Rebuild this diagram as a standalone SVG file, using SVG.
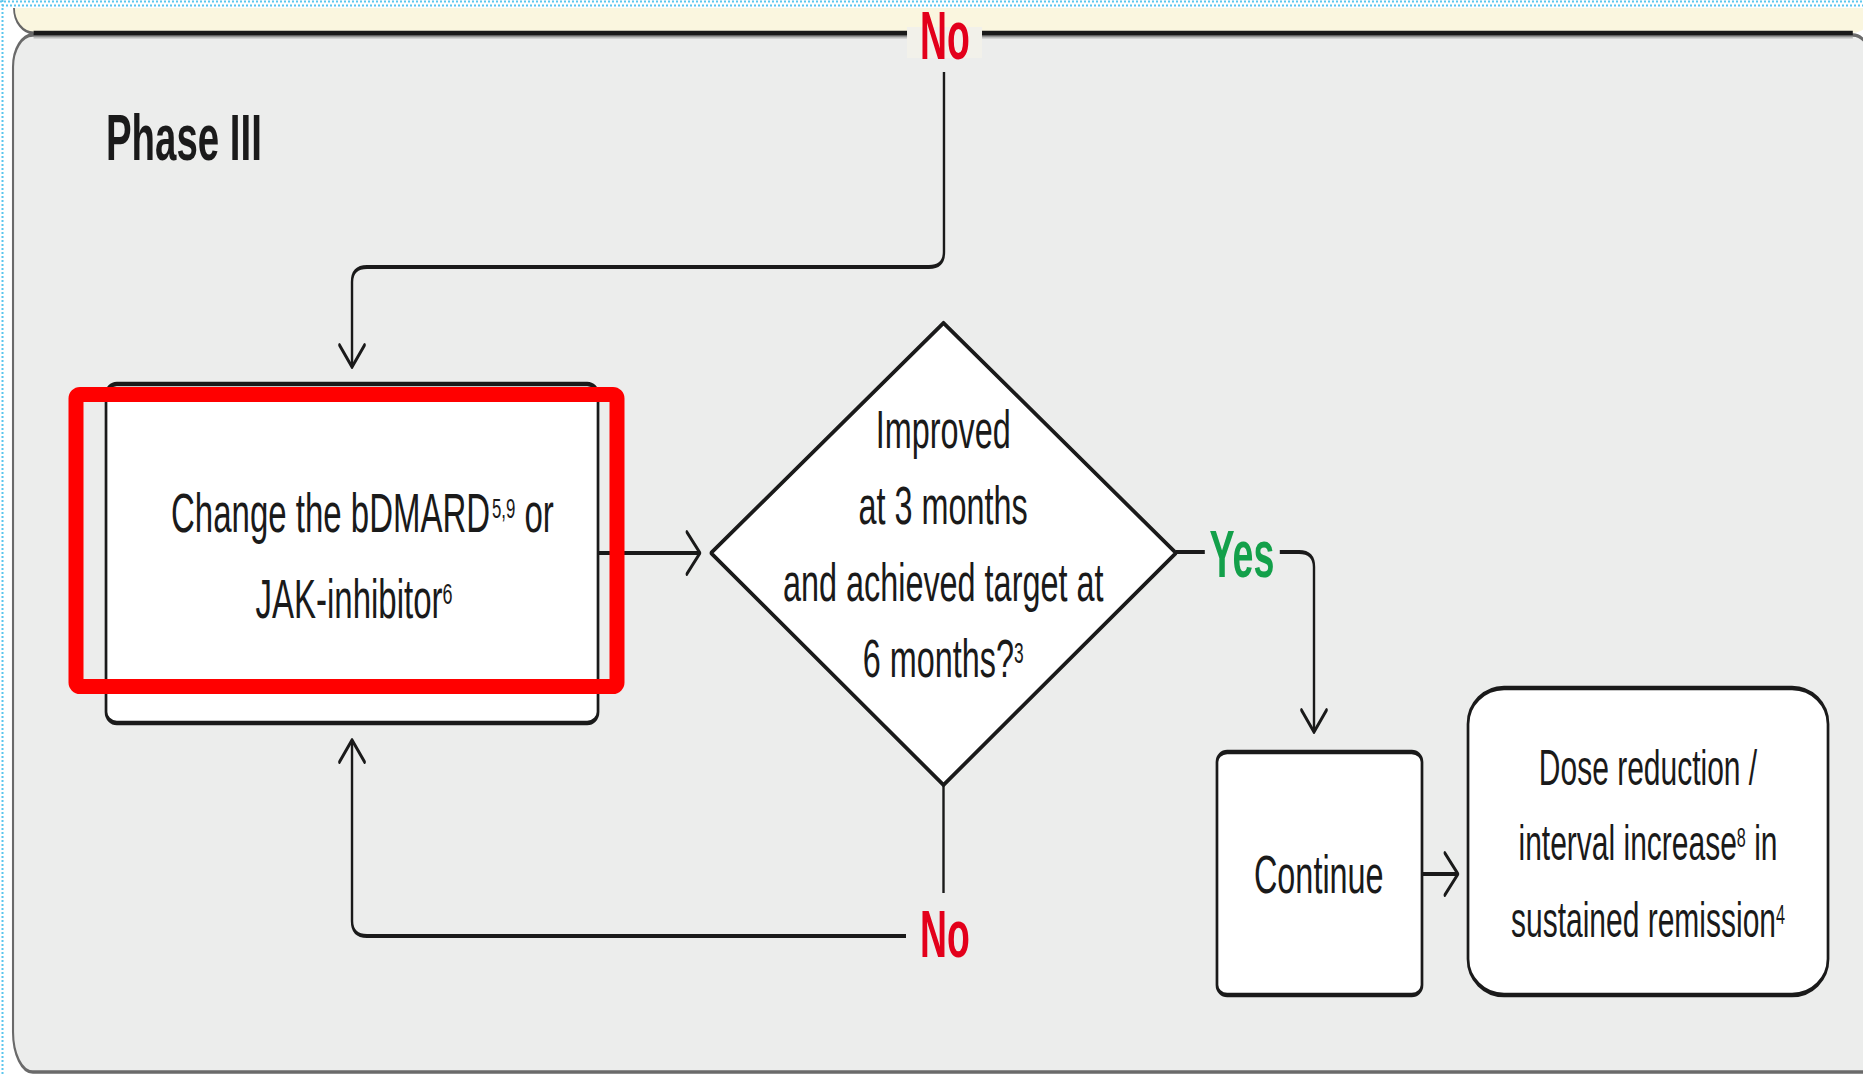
<svg xmlns="http://www.w3.org/2000/svg" width="1863" height="1074" viewBox="0 0 1863 1074">
<style>
.t{font-family:"Liberation Sans",Arial,Helvetica,sans-serif;fill:#1a1a1a}
.b{font-weight:bold}
.node{fill:#ffffff;stroke:#1a1a1a;stroke-width:4.5;stroke-linejoin:round}
.conn{fill:none;stroke:#1a1a1a;stroke-width:4}
.arr{marker-end:url(#arrow)}
.no{fill:#E3001B}
.yes{fill:#13A04A}
.dot{fill:none;stroke:#5BC6EE;stroke-width:2;stroke-dasharray:2 2}
</style>
<defs>
<marker id="arrow" markerUnits="userSpaceOnUse" orient="auto" overflow="visible" markerWidth="1" markerHeight="1" refX="0" refY="0">
<path d="M-22,-21 L0,0 L-22,21" fill="none" stroke="#1a1a1a" stroke-width="4" stroke-linecap="round" stroke-linejoin="round"/>
</marker>
</defs>
<rect x="0" y="0" width="1863" height="1074" fill="#ffffff"/>
<g id="selection-border">
<line class="dot" x1="0" y1="1.5" x2="1863" y2="1.5"/>
<line class="dot" x1="2" y1="5.5" x2="1863" y2="5.5"/>
<line class="dot" x1="2.5" y1="0" x2="2.5" y2="1074"/>
</g>
<g transform="scale(0.6 1)">
<g id="panels">
<path d="M23.3 8 A33 25 0 0 0 56.3 33 H3088 A33 25 0 0 0 3121 8 Z" fill="#FAF6DF"/>
<path d="M23.3 8 A33 25 0 0 0 56.3 33" fill="none" stroke="#666" stroke-width="3"/>
<path d="M21.7 1032 V67 A33 32 0 0 1 54.7 35 H3088 A33 32 0 0 1 3121 67 V1072 H54.7 A33 40 0 0 1 21.7 1032 Z" fill="#ECEDEC" stroke="#6a6a6a" stroke-width="3.5"/>
<rect x="1511.7" y="27" width="125" height="31" fill="#F2F1EA"/>
<line x1="56" y1="37" x2="1511.7" y2="37" stroke="#9a9a9a" stroke-width="3" opacity="0.6"/>
<line x1="1636.7" y1="37" x2="3088" y2="37" stroke="#9a9a9a" stroke-width="3" opacity="0.6"/>
<line x1="56" y1="33" x2="1511.7" y2="33" stroke="#1a1a1a" stroke-width="4.5"/>
<line x1="1636.7" y1="33" x2="3088" y2="33" stroke="#1a1a1a" stroke-width="4.5"/>
<text class="t b" x="176.7" y="160" font-size="64" fill="#111">Phase III</text>
</g>
<g id="connectors">
<path class="conn arr" d="M1573.3 72 V252 Q1573.3 267 1548.3 267 H611.7 Q586.7 267 586.7 282 V367"/>
<path class="conn arr" d="M996.7 553 H1166.7"/>
<path class="conn" d="M1960 552 H2008"/>
<path class="conn arr" d="M2133 552 H2165 Q2190 552 2190 567 V732"/>
<path class="conn arr" d="M2370 874 H2430"/>
<path class="conn" d="M1572.5 785 V893"/>
<path class="conn arr" d="M1510 936 H611.7 Q586.7 936 586.7 921 V740"/>
<text class="t b no" x="1575" y="59" font-size="68" text-anchor="middle" textLength="83" lengthAdjust="spacingAndGlyphs">No</text>
<text class="t b yes" x="2070" y="577" font-size="67" text-anchor="middle" textLength="108" lengthAdjust="spacingAndGlyphs">Yes</text>
<text class="t b no" x="1575" y="957" font-size="67" text-anchor="middle" textLength="83" lengthAdjust="spacingAndGlyphs">No</text>
</g>
<g id="node-change">
<rect class="node" x="176.7" y="384" width="820" height="339" rx="18" ry="11"/>
<text class="t" x="604" y="532" font-size="55" text-anchor="middle">Change the bDMARD<tspan font-size="28" dx="3" dy="-14">5,9</tspan><tspan dy="14"> or</tspan></text>
<text class="t" x="590" y="618" font-size="55" text-anchor="middle">JAK-inhibitor<tspan font-size="30" dy="-14">6</tspan></text>
</g>
<g id="node-decision">
<polygon class="node" points="1572.5,323 1960,553 1572.5,785 1185,553"/>
<text class="t" x="1572" y="448" font-size="54" text-anchor="middle">Improved</text>
<text class="t" x="1572" y="524" font-size="54" text-anchor="middle">at 3 months</text>
<text class="t" x="1572" y="601" font-size="54" text-anchor="middle">and achieved target at</text>
<text class="t" x="1572" y="677" font-size="54" text-anchor="middle">6 months?<tspan font-size="29" dy="-14">3</tspan></text>
</g>
<g id="node-continue">
<rect class="node" x="2028.3" y="752" width="341.7" height="243" rx="17" ry="10"/>
<text class="t" x="2198" y="893" font-size="54" text-anchor="middle">Continue</text>
</g>
<g id="node-dose">
<rect class="node" x="2446.7" y="688" width="600" height="307" rx="60" ry="36"/>
<text class="t" x="2746.7" y="785" font-size="50" text-anchor="middle">Dose reduction /</text>
<text class="t" x="2746.7" y="860" font-size="50" text-anchor="middle">interval increase<tspan font-size="27" dy="-13">8</tspan><tspan dy="13"> in</tspan></text>
<text class="t" x="2746.7" y="937" font-size="50" text-anchor="middle">sustained remission<tspan font-size="27" dy="-13">4</tspan></text>
</g>
</g>
<g id="highlight">
<rect x="76" y="394.5" width="541" height="292" rx="4" fill="none" stroke="#FF0000" stroke-width="15"/>
</g>
</svg>
